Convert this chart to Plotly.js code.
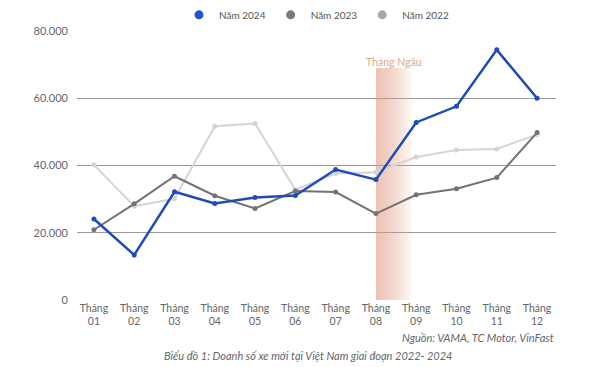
<!DOCTYPE html>
<html>
<head>
<meta charset="utf-8">
<script src="https://cdn.plot.ly/plotly-3.0.1.min.js"></script>
<style>html,body{margin:0;padding:0;background:#fff;}#chart{width:600px;height:367px;}</style>
</head>
<body>
<div id="chart"></div>
<script>
const months = ["Tháng<br>01","Tháng<br>02","Tháng<br>03","Tháng<br>04","Tháng<br>05","Tháng<br>06","Tháng<br>07","Tháng<br>08","Tháng<br>09","Tháng<br>10","Tháng<br>11","Tháng<br>12"];
const sales2024 = [24100, 13400, 32200, 28700, 30500, 31100, 38800, 35800, 52800, 57600, 74400, 60000];
const sales2023 = [20900, 28600, 36800, 31000, 27200, 32400, 32100, 25700, 31300, 33100, 36400, 49800];
const sales2022 = [40200, 27900, 30100, 51700, 52500, 32800, 37600, 38000, 42500, 44600, 44900, 49200];
const names = ["Năm 2024", "Năm 2023", "Năm 2022"];
const ngauStart = 7, ngauTop = 69000;

const xIdx = months.map((_, i) => i);
const font = "Lato, 'Open Sans', sans-serif";

function tr(y, name, color, width) {
  return {x: xIdx, y: y, name: name, type: 'scatter', mode: 'lines+markers', showlegend: false,
    line: {color: color, width: width}, marker: {color: color, size: 5}};
}
const traces = [
  tr(sales2022, names[2], '#d4d4d4', 2),
  tr(sales2023, names[1], '#737373', 2),
  tr(sales2024, names[0], '#1f4db8', 2.5)
];
const legendColors = ['#1d55d6', '#7a7a7a', '#a8a8a8'];
const legendTraces = names.map((n, i) => ({x: [null], y: [null], name: n, type: 'scatter', mode: 'markers',
  marker: {color: legendColors[i], size: 9}}));

const shapes = [];
const steps = 20, bandW = 0.92;
for (let i = 1; i <= steps; i++) {
  shapes.push({type: 'rect', xref: 'x', yref: 'y', layer: 'between',
    x0: ngauStart, x1: ngauStart + bandW * i / steps, y0: 0, y1: ngauTop,
    fillcolor: 'rgba(222,155,128,0.042)', line: {width: 0}});
}

const layout = {
  width: 600, height: 367,
  margin: {l: 77, r: 44, t: 31, b: 67, autoexpand: false},
  paper_bgcolor: '#fff', plot_bgcolor: '#fff',
  separators: ',.',
  font: {family: font, color: '#666', size: 11},
  showlegend: true,
  legend: {orientation: 'h', x: 0.5, xanchor: 'center', y: 1.06, yanchor: 'middle',
    itemwidth: 30, font: {size: 10, color: '#555'}},
  xaxis: {tickmode: 'array', tickvals: xIdx, ticktext: months, range: [-0.42, 11.47],
    showgrid: false, zeroline: false, showline: false, ticks: '', tickfont: {size: 10.5, color: '#666'}},
  yaxis: {range: [0, 80000], tickvals: [0, 20000, 40000, 60000, 80000], tickformat: ',d',
    showgrid: true, gridcolor: '#9a9a9a', gridwidth: 1.2, zeroline: false, showline: false,
    ticks: '', tickfont: {size: 11, color: '#666'}, ticklabelstandoff: 8},
  shapes: shapes,
  annotations: [
    {text: 'Tháng Ngâu', x: ngauStart + 0.45, y: ngauTop, xref: 'x', yref: 'y', yanchor: 'bottom',
      yshift: -2, showarrow: false, font: {size: 10.5, color: '#dcaa8a'}},
    {text: '<i>Nguồn: VAMA, TC Motor, VinFast</i>', x: 1, xanchor: 'right', xref: 'paper', yref: 'paper',
      y: -0.14, yanchor: 'middle', showarrow: false, font: {size: 11, color: '#666'}},
    {text: '<i>Biểu đồ 1: Doanh số xe mới tại Việt Nam giai đoạn 2022- 2024</i>', x: 0.482, xref: 'paper',
      yref: 'paper', y: -0.205, yanchor: 'middle', showarrow: false, font: {size: 11, color: '#666'}}
  ]
};
Plotly.newPlot('chart', traces.concat(legendTraces), layout, {displayModeBar: false, staticPlot: true});
</script>
</body>
</html>
